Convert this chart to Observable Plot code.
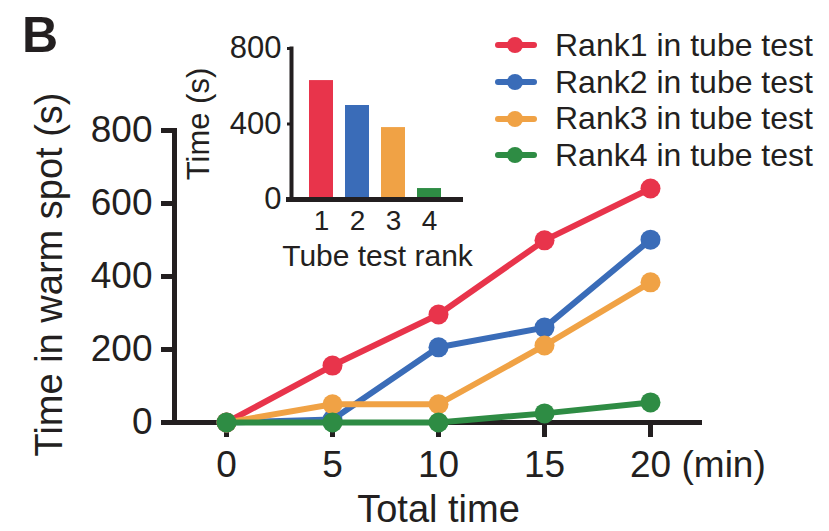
<!DOCTYPE html>
<html>
<head>
<meta charset="utf-8">
<script src="https://cdn.jsdelivr.net/npm/d3@7"></script>
<script src="https://cdn.jsdelivr.net/npm/@observablehq/plot@0.6"></script>
<style>
  body { margin: 0; background: #fff; }
  #wrap { position: relative; width: 829px; height: 531px; overflow: hidden;
          font-family: "Liberation Sans", Arial, Helvetica, sans-serif; color: #231f20; }
  #wrap > svg { position: absolute; left: 0; top: 0; }
  #panel { position: absolute; left: 22px; top: 10px; font-size: 50px; line-height: 50px; font-weight: bold; }
  #legend { position: absolute; left: 495px; top: 27px; }
  #legend .row { display: flex; align-items: center; height: 36.7px; font-size: 32px; white-space: nowrap; }
  #legend svg { margin-right: 18px; }
</style>
</head>
<body>
<div id="wrap"></div>
<script>
// ---- data ----
const times = [0, 5, 10, 15, 20];
const seriesNames = ["Rank1 in tube test", "Rank2 in tube test", "Rank3 in tube test", "Rank4 in tube test"];
const rank1Values = [0, 156, 296, 499, 641];
const rank2Values = [0, 8, 206, 260, 501];
const rank3Values = [0, 50, 50, 211, 384];
const rank4Values = [0, 0, 0, 25, 55];
const colors = ["#e8344b", "#3a6cb8", "#f0a245", "#2e8c44"];
const yTicks = [0, 200, 400, 600, 800];
const insetRanks = ["1", "2", "3", "4"];
const insetValues = [630, 498, 381, 58];
const insetYTicks = [0, 400, 800];

// ---- build tables ----
const seriesValues = [rank1Values, rank2Values, rank3Values, rank4Values];
const lineData = seriesNames.flatMap((name, i) =>
  times.map((t, j) => ({series: name, t, v: seriesValues[i][j]})));
const barData = insetRanks.map((r, i) => ({rank: r, v: insetValues[i]}));

const ink = "#231f20";
const fontFamily = '"Liberation Sans", Arial, Helvetica, sans-serif';

const seriesMarks = seriesNames.flatMap(name => {
  const d = lineData.filter(p => p.series === name);
  return [
    Plot.line(d, {x: "t", y: "v", stroke: "series", strokeWidth: 6}),
    Plot.dot(d, {x: "t", y: "v", fill: "series", r: 10})
  ];
});

const main = Plot.plot({
  width: 829, height: 531,
  marginLeft: 174, marginRight: 127, marginTop: 130, marginBottom: 109,
  style: {fontFamily, color: ink, background: "transparent", overflow: "visible"},
  x: {domain: [0, 20], insetLeft: 52, insetRight: 52},
  y: {domain: [0, 800]},
  color: {domain: seriesNames, range: colors},
  marks: [
    Plot.frame({anchor: "left", stroke: ink, strokeWidth: 5}),
    Plot.axisY({ticks: yTicks, tickSize: 13, tickPadding: 9, fontSize: 37, label: null, stroke: ink, strokeWidth: 5, fill: ink}),
    Plot.axisX({ticks: times, tickSize: 15, tickPadding: 13, fontSize: 37, label: null, stroke: ink, strokeWidth: 5, fill: ink}),
    Plot.ruleY([0], {stroke: ink, strokeWidth: 5, insetLeft: -13}),
    ...seriesMarks,
    Plot.text([20], {x: d => d, text: () => "(min)", frameAnchor: "bottom", textAnchor: "start", lineAnchor: "top", dx: 31, dy: 28, fontSize: 37, fill: ink}),
    Plot.text(["Total time"], {text: d => d, frameAnchor: "bottom", textAnchor: "middle", lineAnchor: "bottom", dy: 99, fontSize: 38, fill: ink}),
    Plot.text(["Time in warm spot (s)"], {text: d => d, frameAnchor: "left", textAnchor: "middle", lineAnchor: "middle", rotate: -90, dx: -125, dy: -2, fontSize: 38, fill: ink})
  ]
});

const inset = Plot.plot({
  width: 829, height: 531,
  marginLeft: 291, marginRight: 366, marginTop: 48, marginBottom: 332,
  style: {fontFamily, color: ink, background: "transparent", overflow: "visible"},
  x: {domain: insetRanks, padding: 0.34, insetLeft: 4.5, insetRight: 9},
  y: {domain: [0, 800]},
  color: {domain: insetRanks, range: colors},
  marks: [
    Plot.barY(barData, {x: "rank", y: "v", fill: "rank"}),
    Plot.frame({anchor: "left", stroke: ink, strokeWidth: 4}),
    Plot.ruleY([0], {stroke: ink, strokeWidth: 5, insetLeft: -5}),
    Plot.axisY({ticks: insetYTicks, tickSize: 4, tickPadding: 6, fontSize: 31, label: null, stroke: ink, strokeWidth: 3, fill: ink}),
    Plot.axisX({tickSize: 0, tickPadding: 11, fontSize: 28, label: null, fill: ink}),
    Plot.text(["Tube test rank"], {text: d => d, frameAnchor: "bottom", textAnchor: "middle", lineAnchor: "bottom", dy: 66, fontSize: 30, fill: ink}),
    Plot.text(["Time (s)"], {text: d => d, frameAnchor: "left", textAnchor: "middle", lineAnchor: "middle", rotate: -90, dx: -92, fontSize: 31, fill: ink})
  ]
});

const wrap = document.getElementById("wrap");
wrap.appendChild(main);
wrap.appendChild(inset);

const panel = document.createElement("div");
panel.id = "panel";
panel.textContent = "B";
wrap.appendChild(panel);

// legend
const legend = document.createElement("div");
legend.id = "legend";
seriesNames.forEach((name, i) => {
  const row = document.createElement("div");
  row.className = "row";
  const sw = d3.create("svg").attr("width", 42).attr("height", 20);
  sw.append("line").attr("x1", 3).attr("x2", 39).attr("y1", 10).attr("y2", 10)
    .attr("stroke", colors[i]).attr("stroke-width", 6).attr("stroke-linecap", "round");
  sw.append("circle").attr("cx", 20).attr("cy", 10).attr("r", 8).attr("fill", colors[i]);
  row.appendChild(sw.node());
  const span = document.createElement("span");
  span.textContent = name;
  row.appendChild(span);
  legend.appendChild(row);
});
wrap.appendChild(legend);
</script>
</body>
</html>
